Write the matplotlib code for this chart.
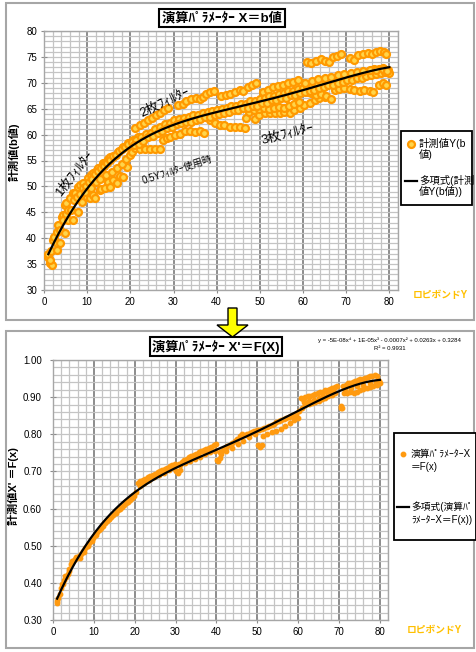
import matplotlib
matplotlib.use("Agg")
import matplotlib.pyplot as plt
import numpy as np
from matplotlib.patches import Rectangle, Polygon
from matplotlib.lines import Line2D

plt.rcParams['font.family'] = ['Liberation Sans', 'Noto Sans CJK JP', 'DejaVu Sans']

# ---------------- top chart data (b value vs Y) ----------------
# 1 filter, upper strand
t_f1_x = [1.0, 1.4, 1.8, 2.2, 2.9, 3.3, 4.1, 4.5, 4.9, 5.2, 6.0, 6.8, 7.2, 7.9, 8.3, 9.1, 10.2, 11.0,
          11.4, 12.2, 12.6, 13.7, 14.1, 14.9, 15.3, 16.0, 17.2, 18.3, 19.5, 20.6, 21.8]
t_f1_y = [36.4, 35.2, 34.8, 39.7, 39.0, 42.5, 44.1, 44.5, 46.4, 46.7, 47.7, 48.7, 48.7, 49.9, 50.3, 50.6, 51.6, 52.2,
          52.5, 53.2, 53.5, 54.5, 54.5, 55.2, 55.6, 55.7, 56.7, 57.7, 58.3, 59.0, 59.6]
# main strand x 1-20
t_m1_x = [1.0, 1.6, 2.4, 3.0, 3.7, 4.3, 5.0, 5.6, 6.3, 7.0, 7.6, 8.3, 9.0, 9.7, 10.4, 11.1, 11.8, 12.5,
          13.2, 13.9, 14.6, 15.3, 16.0, 16.7, 17.4, 18.1, 18.8, 19.5]
t_m1_y = [36.9, 37.6, 40.2, 41.2, 41.6, 43.6, 44.6, 45.4, 45.5, 47.3, 47.9, 48.5, 49.6, 50.1, 50.8, 51.4, 52.3, 52.9,
          53.5, 54.0, 54.6, 55.1, 55.8, 56.1, 56.8, 57.2, 57.7, 58.2]
# 0.5Y filter strands
t_lo_x = [1.5, 2.9, 3.7, 4.9, 5.6, 6.8, 7.9, 8.7, 9.9, 10.6, 11.3, 11.8, 12.9, 13.3, 14.1, 14.9, 15.3, 16.0,
          16.8, 17.5, 18.3, 19.3]
t_lo_y = [35.8, 37.7, 39.0, 41.0, 43.5, 43.5, 45.1, 47.0, 48.0, 47.7, 48.3, 47.8, 49.3, 49.5, 49.6, 50.9, 49.9, 51.2,
          50.6, 52.1, 51.9, 53.8]
t_lo2_x = [9.5, 10.8, 12.0, 13.0, 14.4, 15.8, 17.0, 18.0, 19.0, 20.0]
t_lo2_y = [48.9, 49.6, 50.9, 51.4, 52.2, 52.8, 53.6, 54.4, 55.2, 56.0]
# lower bands
t_b57_x = [20.3, 21.0, 22.2, 23.4, 24.5, 25.7, 26.8]
t_b57_y = [56.6, 57.4, 57.3, 57.2, 57.3, 57.3, 57.2]
t_b60_x = [27.6, 28.5, 29.1, 30.3, 31.4, 32.6, 33.8, 35.0, 36.1, 37.0]
t_b60_y = [59.0, 59.3, 59.5, 59.9, 60.2, 60.6, 60.6, 60.5, 60.6, 60.4]
t_b62_x = [38.4, 39.5, 40.7, 41.8, 43.0, 44.2, 45.3, 46.5]
t_b62_y = [62.8, 62.3, 61.9, 61.9, 61.5, 61.4, 61.4, 61.2]
# 2 filters
t_f2_x = [21.0, 22.2, 23.2, 24.1, 25.1, 26.0, 26.8, 27.7, 28.7,
          31.1, 32.1, 33.0, 34.1, 35.3, 36.1, 36.8, 37.6, 38.5, 39.3,
          41.1, 42.1, 43.0, 44.2, 45.3, 46.1, 47.2, 48.2, 49.2,
          50.7, 51.9, 53.0, 54.2, 55.3, 56.5, 57.6, 58.8]
t_f2_y = [61.2, 61.9, 62.3, 62.8, 63.3, 63.8, 64.2, 64.8, 65.1,
          65.7, 66.0, 66.4, 66.9, 67.0, 66.9, 67.3, 67.8, 68.2, 68.5,
          67.5, 67.7, 67.8, 68.3, 68.6, 68.5, 69.1, 69.6, 69.9,
          68.3, 68.7, 69.1, 69.4, 69.6, 69.9, 70.2, 70.5]
# upper band x 61-79
t_top_x = [60.9, 61.9, 63.0, 64.2, 65.2, 66.0, 66.9, 67.8, 68.8, 70.8, 71.7, 72.7, 73.8, 75.0, 76.0, 76.9,
           77.9, 78.7, 79.2]
t_top_y = [74.0, 73.8, 74.3, 74.5, 74.3, 74.1, 74.9, 75.2, 75.5, 74.7, 74.4, 75.4, 75.6, 75.7, 75.6, 76.0,
           76.2, 76.0, 75.6]
# 3 filters
t_f3_x = [46.9, 48.8, 49.9, 51.1, 52.3, 53.4, 54.6, 55.7, 56.9, 58.0, 59.2, 60.3, 61.5, 62.7, 63.8, 65.0]
t_f3_y = [63.2, 63.1, 63.7, 64.1, 64.1, 64.2, 64.1, 64.4, 64.2, 64.7, 65.2, 65.7, 66.1, 66.7, 67.0, 67.3]
t_f3b_x = [47.5, 48.6, 49.8, 51.0, 52.2, 53.3, 54.5, 55.6, 56.8, 57.9, 59.0]
t_f3b_y = [64.4, 64.8, 64.9, 65.1, 65.0, 65.2, 65.4, 65.2, 65.6, 65.9, 66.3]
# lower band x 61-79
t_lo7_x = [61.1, 61.9, 63.0, 64.2, 65.4, 66.5, 67.3, 68.4, 69.6, 70.8, 71.9, 73.1, 74.2, 75.4, 76.3, 77.7,
           78.5, 79.2]
t_lo7_y = [68.3, 68.0, 67.7, 67.8, 67.4, 66.8, 68.6, 68.8, 69.0, 68.8, 68.6, 68.5, 68.6, 68.4, 68.2, 69.6,
           69.9, 69.5]
# main band x 20-80
t_mh_x = [20.3, 21.4, 22.5, 23.6, 24.7, 25.8, 26.9, 28.0, 29.1, 30.2, 31.3, 32.4, 33.5, 34.6, 35.7, 36.8,
          37.9, 39.0, 40.1, 41.2, 42.3, 43.4, 44.5, 45.6, 46.7, 47.8, 48.9, 50.0, 51.1, 52.2, 53.3, 54.4,
          55.5, 56.6, 57.7, 58.8, 59.9, 61.0, 62.1, 63.2, 64.3, 65.4, 66.5, 67.6, 68.7, 69.8, 70.9, 72.0,
          73.1, 74.2, 75.3, 76.4, 77.5, 78.6, 79.7]
t_mh_y = [58.6, 59.0, 59.6, 60.1, 60.4, 61.1, 61.5, 62.0, 62.3, 62.8, 63.0, 63.3, 63.4, 63.7, 63.8, 64.2,
          64.3, 64.6, 64.7, 65.0, 65.2, 65.5, 65.6, 65.9, 66.0, 66.4, 66.5, 66.9, 67.0, 67.4, 67.5, 67.9,
          68.0, 68.4, 68.5, 68.8, 69.0, 69.3, 69.5, 69.8, 70.0, 70.3, 70.4, 70.8, 70.9, 71.3, 71.4, 71.7,
          71.8, 72.1, 72.3, 72.6, 72.6, 72.8, 72.5]
t_mo_x = [20.8, 21.9, 23.0, 24.1, 25.2, 26.3, 27.4, 28.5, 29.6, 30.7, 31.8, 32.9, 34.0, 35.1, 36.2, 37.3,
          38.4, 39.5, 40.6, 41.7, 42.8, 43.9, 45.0, 46.1, 47.2, 48.3, 49.4, 50.5, 51.6, 52.7, 53.8, 54.9,
          56.0, 57.1, 58.2, 59.3, 60.4, 61.5, 62.6, 63.7, 64.8, 65.9, 67.0, 68.1, 69.2, 70.3, 71.4, 72.5,
          73.6, 74.7, 75.8, 76.9, 78.0, 79.1, 80.0]
t_mo_y = [57.9, 58.2, 58.8, 59.5, 59.8, 60.4, 60.7, 61.3, 61.5, 62.0, 62.2, 62.5, 62.5, 62.9, 63.0, 63.4,
          63.4, 63.8, 63.9, 64.2, 64.3, 64.7, 64.8, 65.1, 65.1, 65.6, 65.6, 66.1, 66.1, 66.6, 66.6, 67.1,
          67.1, 67.6, 67.6, 68.0, 68.2, 68.5, 68.6, 69.0, 69.1, 69.5, 69.6, 70.0, 70.1, 70.5, 70.6, 70.9,
          71.0, 71.3, 71.5, 71.7, 71.8, 72.1, 71.8]
t_mh2_x = [60.5, 62.0, 63.5, 65.0, 66.5, 68.0, 69.5, 71.0, 72.5, 74.0, 75.5, 77.0, 78.5, 79.5]
t_mh2_y = [70.0, 70.4, 70.7, 71.0, 71.2, 71.5, 71.7, 71.9, 72.0, 72.2, 72.4, 72.5, 72.6, 72.3]

# ---------------- bottom chart data (X' = F(x) vs Y) ----------------
b_a_x = [1.0, 1.1, 1.3, 1.6, 2.0, 2.4, 2.8, 3.2, 3.6, 4.0, 4.5, 5.0, 5.4, 5.8, 6.3, 6.8, 7.3, 7.8, 8.3, 8.8,
         9.3, 9.8, 10.3, 10.8, 11.3, 11.8, 12.3, 12.8, 13.3, 13.8, 14.3, 14.8, 15.3, 15.8, 16.3, 16.8,
         17.3, 17.8, 18.3, 18.8, 19.3, 19.8]
b_a_y = [0.350, 0.345, 0.358, 0.370, 0.387, 0.398, 0.408, 0.416, 0.424, 0.436, 0.452, 0.459, 0.464, 0.468,
         0.472, 0.478, 0.486, 0.494, 0.500, 0.508, 0.515, 0.522, 0.530, 0.537, 0.543, 0.549, 0.554, 0.560,
         0.566, 0.572, 0.578, 0.584, 0.589, 0.595, 0.600, 0.605, 0.609, 0.614, 0.619, 0.624, 0.629, 0.634]
b_b_x = [2.2, 3.0, 3.8, 4.6, 5.6, 6.6, 7.6, 8.6, 9.6, 10.6, 11.6, 12.6, 13.6, 14.6, 15.6, 16.6, 17.6, 18.6,
         19.6, 20.4]
b_b_y = [0.398, 0.418, 0.432, 0.458, 0.470, 0.468, 0.482, 0.498, 0.512, 0.528, 0.545, 0.560, 0.573, 0.585,
         0.597, 0.608, 0.617, 0.626, 0.636, 0.645]
b_c_x = [20.9, 21.4, 22.0, 22.6, 23.2, 23.8, 24.4, 25.0, 25.6, 26.2, 26.8, 27.4, 28.0, 28.6, 29.2, 29.8,
         21.2, 22.3, 23.5, 24.7, 25.9, 27.1, 28.3, 29.5]
b_c_y = [0.670, 0.674, 0.676, 0.680, 0.684, 0.688, 0.691, 0.694, 0.698, 0.702, 0.704, 0.707, 0.710, 0.714,
         0.717, 0.721, 0.660, 0.668, 0.676, 0.684, 0.690, 0.696, 0.703, 0.708]
b_d_x = [30.2, 30.6, 31.0, 30.8, 31.5, 32.1, 32.7, 33.3, 33.9, 34.5, 35.1, 35.7, 36.3, 36.9, 37.5, 38.1,
         38.7, 39.3, 39.9, 31.2, 32.4, 33.6, 34.8, 36.0, 37.2, 38.4, 39.6]
b_d_y = [0.700, 0.696, 0.703, 0.720, 0.726, 0.730, 0.734, 0.738, 0.741, 0.744, 0.748, 0.751, 0.754, 0.757,
         0.760, 0.764, 0.767, 0.770, 0.774, 0.716, 0.722, 0.728, 0.734, 0.740, 0.746, 0.751, 0.756]
b_e_x = [40.2, 40.5, 40.8, 40.9, 41.5, 42.1, 42.7, 43.3, 43.9, 44.5, 45.1, 45.7, 46.3, 46.9, 47.5, 48.1,
         48.7, 49.3, 49.9, 41.0, 42.4, 43.8, 45.2, 46.6, 48.0, 49.4]
b_e_y = [0.730, 0.727, 0.735, 0.752, 0.757, 0.762, 0.768, 0.772, 0.777, 0.782, 0.788, 0.796, 0.800, 0.797,
         0.801, 0.804, 0.806, 0.808, 0.812, 0.748, 0.756, 0.764, 0.774, 0.782, 0.792, 0.800]
b_f_x = [50.3, 50.7, 51.1, 50.5, 51.1, 51.7, 52.3, 52.9, 53.5, 54.1, 54.7, 55.3, 55.9, 56.5, 57.1, 57.7,
         58.3, 58.9, 59.5, 51.3, 52.4, 53.5, 54.6, 55.7, 56.8, 57.9, 59.0, 60.0]
b_f_y = [0.770, 0.767, 0.771, 0.812, 0.815, 0.817, 0.820, 0.823, 0.826, 0.829, 0.832, 0.835, 0.838, 0.841,
         0.844, 0.846, 0.849, 0.852, 0.855, 0.795, 0.800, 0.805, 0.810, 0.815, 0.822, 0.830, 0.838, 0.845]
b_g_x = [60.6, 61.2, 61.8, 62.4, 63.0, 63.6, 64.2, 64.8, 65.4, 66.0, 66.6, 67.2, 67.8, 68.4, 69.0, 69.6,
         60.2, 61.0, 61.8, 62.6, 63.4, 64.2, 65.0, 65.8, 66.6, 67.4, 68.2, 69.0,
         61.4, 62.6, 63.8, 65.0, 66.2, 67.4, 68.6, 70.4, 70.6, 70.8]
b_g_y = [0.898, 0.895, 0.900, 0.902, 0.904, 0.906, 0.908, 0.911, 0.913, 0.915, 0.918, 0.920, 0.923, 0.925,
         0.928, 0.931, 0.862, 0.872, 0.878, 0.882, 0.884, 0.888, 0.890, 0.894, 0.898, 0.902, 0.906, 0.910,
         0.886, 0.890, 0.893, 0.898, 0.904, 0.910, 0.916, 0.872, 0.876, 0.870]
b_h_x = [71.0, 71.6, 72.2, 72.8, 73.4, 74.0, 74.6, 75.2, 75.8, 76.4, 77.0, 77.6, 78.2, 78.8, 79.4,
         71.2, 72.0, 72.8, 73.6, 74.4, 75.2, 76.0, 76.8, 77.6, 78.4, 79.2, 80.0,
         71.5, 73.0, 74.5, 76.0, 77.5, 79.0, 79.8]
b_h_y = [0.930, 0.933, 0.937, 0.939, 0.942, 0.944, 0.946, 0.948, 0.950, 0.952, 0.954, 0.956, 0.958, 0.960,
         0.958, 0.912, 0.910, 0.914, 0.912, 0.915, 0.918, 0.922, 0.924, 0.927, 0.930, 0.934, 0.937,
         0.922, 0.925, 0.929, 0.933, 0.937, 0.941, 0.944]

top_x = np.concatenate([t_f1_x, t_m1_x, t_lo_x, t_lo2_x, t_b57_x, t_b60_x, t_b62_x, t_f2_x, t_top_x,
                        t_f3_x, t_f3b_x, t_lo7_x, t_mh_x, t_mo_x, t_mh2_x])
top_y = np.concatenate([t_f1_y, t_m1_y, t_lo_y, t_lo2_y, t_b57_y, t_b60_y, t_b62_y, t_f2_y, t_top_y,
                        t_f3_y, t_f3b_y, t_lo7_y, t_mh_y, t_mo_y, t_mh2_y])
bot_x = np.concatenate([b_a_x, b_b_x, b_c_x, b_d_x, b_e_x, b_f_x, b_g_x, b_h_x])
bot_y = np.concatenate([b_a_y, b_b_y, b_c_y, b_d_y, b_e_y, b_f_y, b_g_y, b_h_y])

W, H = 476, 652
fig = plt.figure(figsize=(W / 100, H / 100), dpi=100)


def fx(px):
    return px / W


def fy(py):
    return 1 - py / H


# panel borders
for (x0, y0, x1, y1) in [(6, 3, 474, 320), (6, 331, 474, 648)]:
    fig.add_artist(Rectangle((fx(x0), fy(y1)), fx(x1) - fx(x0), fy(y0) - fy(y1), transform=fig.transFigure,
                             fill=False, ec='#A6A6A6', lw=1.5))


def style_axes(ax, ymin, ymax, ymaj, ymin_step, fmt):
    ax.set_xlim(0, 82)
    ax.set_ylim(ymin, ymax)
    ax.set_xticks(np.arange(0, 81, 10))
    ax.set_xticks(np.arange(0, 83, 2), minor=True)
    ax.set_yticks(np.arange(ymin, ymax + ymaj / 2, ymaj))
    ax.set_yticks(np.arange(ymin, ymax + ymin_step / 2, ymin_step), minor=True)
    ax.set_yticklabels([fmt.format(v) for v in np.arange(ymin, ymax + ymaj / 2, ymaj)])
    ax.grid(which='minor', color='#C4C4C4', lw=0.9)
    ax.grid(which='major', axis='y', color='#C4C4C4', lw=0.9)
    ax.grid(which='major', axis='x', color='#8C8C8C', lw=1.4)
    ax.set_axisbelow(True)
    for s in ax.spines.values():
        s.set_color('#A6A6A6')
        s.set_linewidth(1.0)
    ax.tick_params(which='major', direction='inout', length=4, color='#8C8C8C', labelsize=7, pad=3)
    ax.tick_params(which='minor', length=0)


# ---------------- top chart ----------------
ax1 = fig.add_axes([fx(44), fy(290), fx(398) - fx(44), fy(31) - fy(290)])
style_axes(ax1, 30, 80, 5, 1, "{:.0f}")
ax1.plot(top_x, top_y, 'o', ls='none', ms=5, mfc='#FFD54A', mec='#FF9900', mew=1.6, zorder=3)
p1 = np.polyfit(top_x, top_y, 4)
xx1 = np.linspace(top_x.min(), top_x.max(), 200)
ax1.plot(xx1, np.polyval(p1, xx1), color='black', lw=1.6, zorder=4)

fig.text(fx(222), fy(18), "演算ﾊﾟﾗﾒｰﾀｰ X＝b値", ha='center', va='center', fontsize=9.5, fontweight='bold',
         bbox=dict(boxstyle='square,pad=0.2', fc='white', ec='black', lw=1.5))
fig.text(fx(14), fy(152), "計測値(b値)", rotation=90, ha='center', va='center', fontsize=8, fontweight='bold')
fig.text(fx(440), fy(295), "ロピボンドY", ha='center', va='center', fontsize=7, fontweight='bold', color='#FFC000')

fig.text(fx(165), fy(103), "2枚ﾌｨﾙﾀｰ", rotation=25, ha='center', va='center', fontsize=9.5)
fig.text(fx(288), fy(135), "3枚ﾌｨﾙﾀｰ", rotation=14, ha='center', va='center', fontsize=9.5)
fig.text(fx(75), fy(173), "1枚ﾌｨﾙﾀｰ", rotation=52, ha='center', va='center', fontsize=9.5)
fig.text(fx(177), fy(170), "0.5Yﾌｨﾙﾀｰ使用時", rotation=18, ha='center', va='center', fontsize=7)

# top legend
fig.add_artist(Rectangle((fx(401), fy(205)), fx(472) - fx(401), fy(131) - fy(205), transform=fig.transFigure,
                         fill=True, fc='white', ec='black', lw=1.3))
fig.add_artist(Line2D([fx(411)], [fy(143.5)], transform=fig.transFigure, marker='o', ms=5, mfc='#FFD54A',
                      mec='#FF9900', mew=1.6, ls='none'))
fig.text(fx(419), fy(143.5), "計測値Y(b", ha='left', va='center', fontsize=7.5)
fig.text(fx(419), fy(154), "値)", ha='left', va='center', fontsize=7.5)
fig.add_artist(Line2D([fx(405), fx(417)], [fy(181), fy(181)], transform=fig.transFigure, color='black', lw=1.6))
fig.text(fx(419), fy(180), "多項式(計測", ha='left', va='center', fontsize=7.5)
fig.text(fx(419), fy(191), "値Y(b値))", ha='left', va='center', fontsize=7.5)

# ---------------- arrow ----------------
arrow_pts = [(228, 308), (237, 308), (237, 325), (248, 325), (232.5, 337), (217, 325), (228, 325)]
fig.add_artist(Polygon([(fx(a), fy(b)) for a, b in arrow_pts], closed=True, transform=fig.transFigure,
                       fc='#FFFF00', ec='black', lw=1.0, zorder=10))

# ---------------- bottom chart ----------------
ax2 = fig.add_axes([fx(53), fy(620), fx(388) - fx(53), fy(360) - fy(620)])
style_axes(ax2, 0.30, 1.00, 0.10, 0.02, "{:.2f}")
ax2.tick_params(axis='y', pad=6)
ax2.plot(bot_x, bot_y, 'o', ls='none', ms=3.2, color='#FF9A10', mec='#FF9A10', zorder=3)
p2 = np.polyfit(bot_x, bot_y, 4)
xx2 = np.linspace(bot_x.min(), bot_x.max(), 200)
ax2.plot(xx2, np.polyval(p2, xx2), color='black', lw=1.6, zorder=4)

fig.text(fx(216), fy(346.5), "演算ﾊﾟﾗﾒｰﾀｰ X'＝F(X)", ha='center', va='center', fontsize=9.5, fontweight='bold',
         bbox=dict(boxstyle='square,pad=0.2', fc='white', ec='black', lw=1.5))
fig.text(fx(389), fy(340), "y = -5E-08x⁴ + 1E-05x³ - 0.0007x² + 0.0263x + 0.3284", ha='center', va='center',
         fontsize=4.3)
fig.text(fx(390), fy(348.5), "R² = 0.9931", ha='center', va='center', fontsize=4.3)
fig.text(fx(13), fy(486), "計測値X' ＝F(x)", rotation=90, ha='center', va='center', fontsize=8, fontweight='bold')
fig.text(fx(434), fy(630), "ロピボンドY", ha='center', va='center', fontsize=7, fontweight='bold', color='#FFC000')

# bottom legend
fig.add_artist(Rectangle((fx(394), fy(540)), fx(476) - fx(394), fy(433) - fy(540), transform=fig.transFigure,
                         fill=True, fc='white', ec='black', lw=1.3))
fig.add_artist(Line2D([fx(403)], [fy(454)], transform=fig.transFigure, marker='o', ms=3.2, color='#FF9A10',
                      ls='none'))
fig.text(fx(411), fy(454), "演算ﾊﾟﾗﾒｰﾀｰX", ha='left', va='center', fontsize=7)
fig.text(fx(411), fy(467), "＝F(x)", ha='left', va='center', fontsize=7)
fig.add_artist(Line2D([fx(397), fx(409)], [fy(507), fy(507)], transform=fig.transFigure, color='black', lw=1.6))
fig.text(fx(411), fy(507), "多項式(演算ﾊﾟ", ha='left', va='center', fontsize=7)
fig.text(fx(411), fy(520), "ﾗﾒｰﾀｰX＝F(x))", ha='left', va='center', fontsize=7)

fig.savefig("out.png", dpi=100)
